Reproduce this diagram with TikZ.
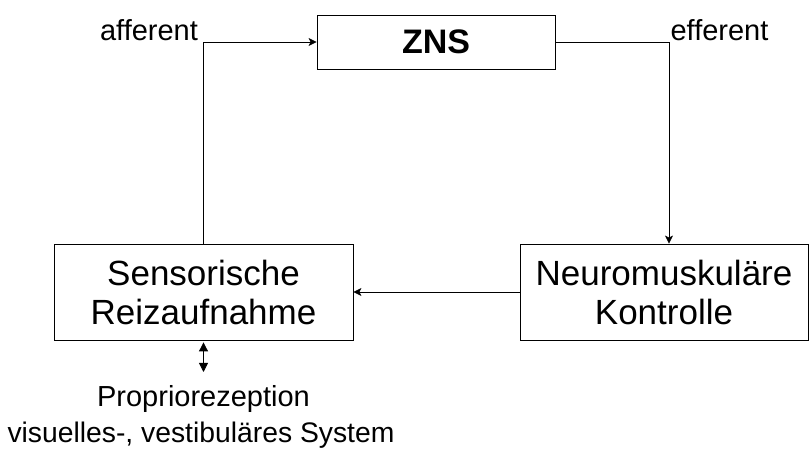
\documentclass[tikz,border=0pt]{standalone}
\usepackage{fontspec}
\setmainfont{Liberation Sans}
\usetikzlibrary{arrows.meta, positioning, calc}
\tikzset{
  every picture/.style={line width=0.8pt},
  box/.style={draw, rectangle, align=center, inner sep=0pt, font=\fontsize{35pt}{39pt}\selectfont},
  arrow/.style={-{Stealth[length=8pt, width=8pt, inset=2pt]}},
  twoway/.style={{Triangle[length=9pt, width=9pt]}-{Triangle[length=9pt, width=9pt]}},
  note/.style={inner sep=0pt, font=\fontsize{29pt}{34pt}\selectfont},
}

\begin{document}
\begin{tikzpicture}[x=1pt, y=1pt]
  \useasboundingbox (0,0) rectangle (809,458);
  % boxes
  \node[box, minimum width=238pt, minimum height=54pt, font=\fontsize{34pt}{38pt}\selectfont\bfseries] (zns) at (436,416) {ZNS};
  \node[box, minimum width=299pt, minimum height=96pt] (sens) at (203.5,166) {Sensorische\\Reizaufnahme};
  \node[box, minimum width=288pt, minimum height=96pt] (neuro) at (664,166) {Neuromuskuläre\\Kontrolle};
  % labels
  \node[note] (aff) at (149,428) {afferent};
  \node[note] (eff) at (719.5,428) {efferent};
  \node[note] (prop) at (203.5,59) {Propriorezeption};
  \node[note, font=\fontsize{28.3pt}{34pt}\selectfont] (sys) at (201,23) {visuelles-, vestibuläres System};
  \coordinate (pend) at (203.5,86);
  % connectors
  \draw[arrow] (sens.north) |- (zns.west);
  \draw[arrow] (zns.east) -| ([xshift=5pt]neuro.north);
  \draw[arrow] (neuro.west) -- (sens.east);
  \draw[twoway, shorten <=2pt] (sens.south) -- (pend);
\end{tikzpicture}
\end{document}
